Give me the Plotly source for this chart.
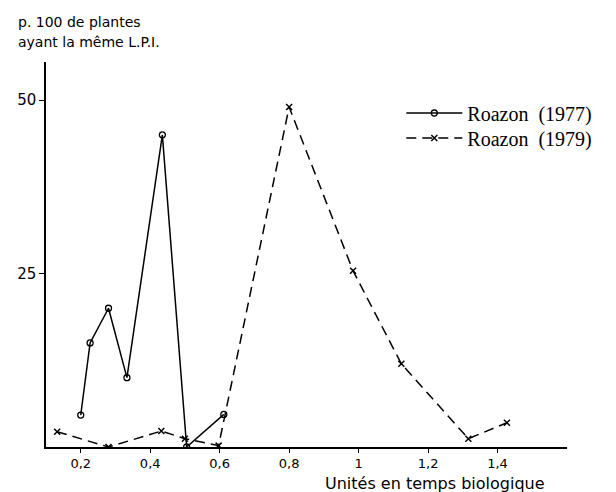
import plotly.graph_objects as go

# Roazon (1977) - circles, solid line
x_1977 = [0.20, 0.227, 0.28, 0.333, 0.435, 0.505, 0.612]
y_1977 = [4.6, 15.0, 20.0, 10.0, 45.0, 0.0, 4.7]

# Roazon (1979) - crosses, dashed line
x_1979 = [0.132, 0.28, 0.432, 0.50, 0.597, 0.80, 0.984, 1.123, 1.316, 1.427]
y_1979 = [2.2, 0.0, 2.3, 1.2, 0.2, 49.0, 25.4, 12.0, 1.2, 3.5]

x_tickvals = [0.2, 0.4, 0.6, 0.8, 1.0, 1.2, 1.4]
x_ticktext = ["0,2", "0,4", "0,6", "0,8", "1", "1,2", "1,4"]
y_tickvals = [25, 50]
y_ticktext = ["25", "50"]

sans = "DejaVu Sans"
serif = "Liberation Serif"

fig = go.Figure()
fig.add_trace(go.Scatter(
    x=x_1977, y=y_1977, mode="lines+markers", name="Roazon  (1977)",
    line=dict(color="black", width=1.5),
    marker=dict(symbol="circle-open", size=6, color="black", line=dict(width=1.3)),
    legend="legend",
))
fig.add_trace(go.Scatter(
    x=x_1979, y=y_1979, mode="lines+markers", name="Roazon  (1979)",
    line=dict(color="black", width=1.5, dash="10px,6px"),
    marker=dict(symbol="x-thin-open", size=6, color="black", line=dict(width=1.5, color="black")),
    legend="legend2",
))

legend_common = dict(
    xanchor="left", yanchor="middle",
    font=dict(family=serif, size=20, color="black"),
    bgcolor="rgba(0,0,0,0)", itemwidth=56,
)

fig.update_layout(
    width=616, height=492,
    margin=dict(l=46, r=49, t=62, b=45),
    paper_bgcolor="white", plot_bgcolor="white",
    showlegend=True,
    legend=dict(x=0.682, y=0.8675, **legend_common),
    legend2=dict(x=0.682, y=0.8026, **legend_common),
    xaxis=dict(
        range=[0.1, 1.6], showgrid=False, zeroline=False,
        showline=True, linecolor="black", linewidth=1.5,
        ticks="outside", ticklen=4, tickcolor="black",
        tickvals=x_tickvals, ticktext=x_ticktext,
        tickfont=dict(family=sans, size=13, color="black"),
    ),
    yaxis=dict(
        range=[0, 55.5], showgrid=False, zeroline=False,
        showline=True, linecolor="black", linewidth=1.5,
        ticks="outside", ticklen=5, tickcolor="black",
        tickvals=y_tickvals, ticktext=y_ticktext,
        tickfont=dict(family=sans, size=15, color="black"),
    ),
    annotations=[
        dict(text="p. 100 de plantes", xref="paper", yref="paper",
             x=0, xshift=-30, y=1.104, xanchor="left", yanchor="middle", showarrow=False,
             font=dict(family=sans, size=14, color="black")),
        dict(text="ayant la même L.P.I.", xref="paper", yref="paper",
             x=0, xshift=-30, y=1.052, xanchor="left", yanchor="middle", showarrow=False,
             font=dict(family=sans, size=14, color="black")),
        dict(text="Unités en temps biologique", xref="paper", yref="paper",
             x=0.962, y=-0.094, xanchor="right", yanchor="middle", showarrow=False,
             font=dict(family=sans, size=16, color="black")),
    ],
)

fig.write_html("out.html")
